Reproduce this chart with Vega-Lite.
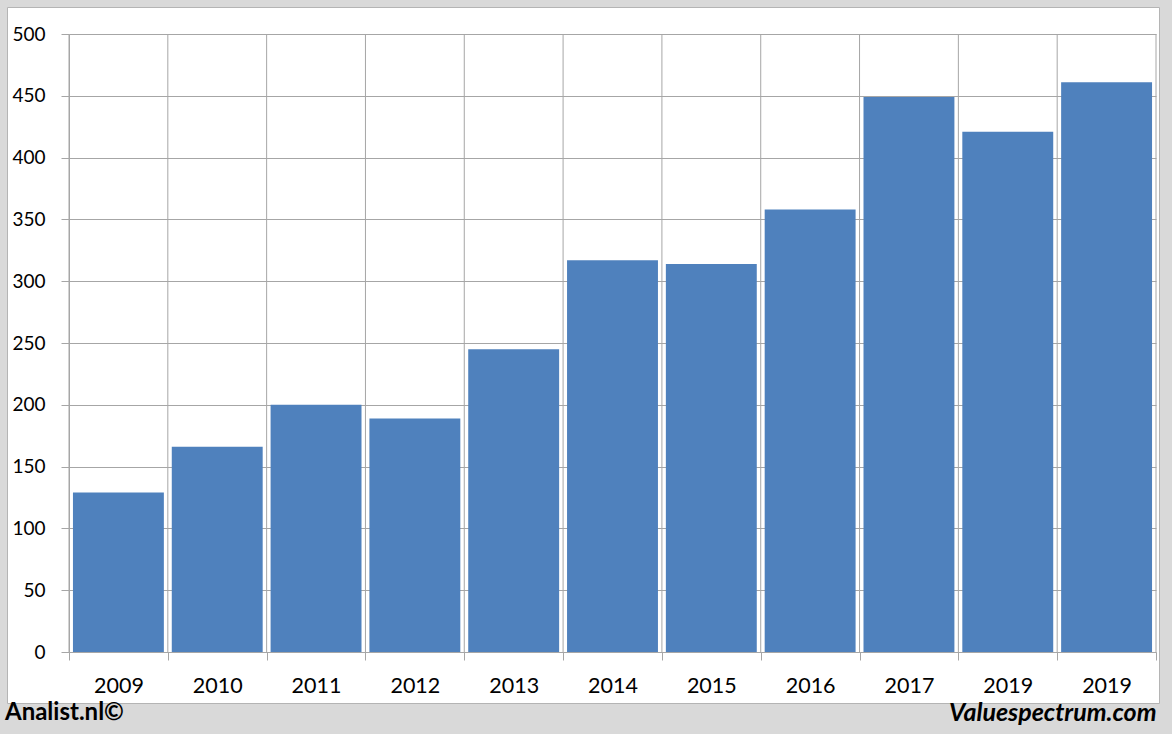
{
  "$schema": "https://vega.github.io/schema/vega-lite/v6.json",
  "width": 1152,
  "height": 696,
  "autosize": {"type": "none"},
  "padding": {"left": 7, "top": 7, "right": 13, "bottom": 31},
  "background": "#d9d9d9",
  "config": {
    "view": {"fill": "#ffffff", "stroke": "#b4b4b4", "strokeWidth": 1},
    "font": "Lato"
  },
  "title": {
    "text": "Analist.nl©",
    "orient": "bottom",
    "anchor": "start",
    "frame": "group",
    "font": "Lato",
    "fontSize": 24,
    "fontWeight": "bold",
    "color": "#000000",
    "offset": -25,
    "dx": -2
  },
  "data": {
    "values": [
      {"period": "2009", "value": 129},
      {"period": "2010", "value": 166},
      {"period": "2011", "value": 200},
      {"period": "2012", "value": 189},
      {"period": "2013", "value": 245},
      {"period": "2014", "value": 317},
      {"period": "2015", "value": 314},
      {"period": "2016", "value": 358},
      {"period": "2017", "value": 449},
      {"period": "2019-1", "value": 421},
      {"period": "2019-2", "value": 461}
    ]
  },
  "layer": [
    {
      "mark": {"type": "rule", "color": "#a6a6a6", "strokeWidth": 1},
      "encoding": {
        "x": {"field": "period", "type": "ordinal", "sort": null, "bandPosition": 0},
        "y": {"datum": 0},
        "y2": {"datum": 500}
      }
    },
    {
      "transform": [{"filter": "datum.period == '2019-2'"}],
      "mark": {"type": "rule", "color": "#a6a6a6", "strokeWidth": 1},
      "encoding": {
        "x": {"field": "period", "type": "ordinal", "sort": null, "bandPosition": 1},
        "y": {"datum": 0},
        "y2": {"datum": 500}
      }
    },
    {
      "mark": {"type": "bar", "color": "#4f81bd", "width": {"band": 0.92}},
      "encoding": {
        "x": {
          "field": "period",
          "type": "ordinal",
          "sort": null,
          "scale": {"range": [62, 1149], "paddingInner": 0, "paddingOuter": 0},
          "axis": {
            "title": "Valuespectrum.com",
            "titleFont": "Lato",
            "titleFontSize": 25,
            "titleFontWeight": "bold",
            "titleFontStyle": "italic",
            "titleColor": "#000000",
            "titleAnchor": "end",
            "titleAlign": "right",
            "titlePadding": 4,
            "bandPosition": 0.5,
            "labelExpr": "substring(datum.label, 0, 4)",
            "labelAngle": 0,
            "labelAlign": "center",
            "labelFont": "Lato",
            "labelFontSize": 21.5,
            "labelColor": "#000000",
            "labelPadding": 26,
            "offset": -51,
            "tickBand": "extent",
            "grid": false,
            "domainColor": "#a6a6a6",
            "tickColor": "#a6a6a6",
            "tickSize": 8
          }
        },
        "y": {
          "field": "value",
          "type": "quantitative",
          "scale": {"domain": [0, 500], "range": [645, 27], "nice": false},
          "axis": {
            "title": null,
            "values": [0, 50, 100, 150, 200, 250, 300, 350, 400, 450, 500],
            "labelFont": "Lato",
            "labelFontSize": 19,
            "labelColor": "#000000",
            "labelPadding": 16,
            "offset": -62,
            "grid": true,
            "gridColor": "#a6a6a6",
            "gridWidth": 1,
            "domainColor": "#a6a6a6",
            "tickColor": "#a6a6a6",
            "tickSize": 8
          }
        }
      }
    }
  ]
}
